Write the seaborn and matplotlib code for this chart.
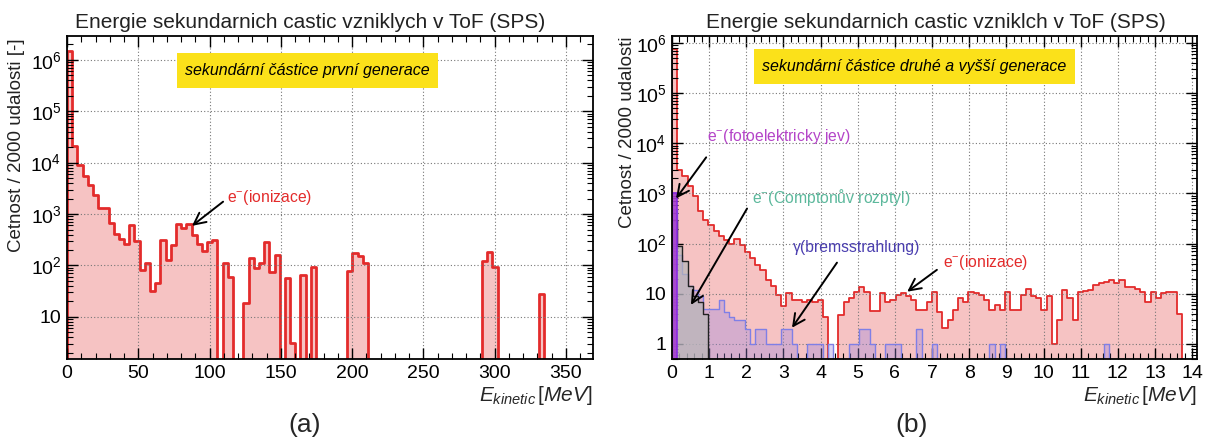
import numpy as np
import pandas as pd
import matplotlib
matplotlib.use("Agg")
import matplotlib.pyplot as plt
import seaborn as sns
from matplotlib.colors import to_rgba
from matplotlib.patches import Rectangle
from matplotlib.ticker import FixedLocator, MultipleLocator, LogLocator, NullFormatter, FuncFormatter

sns.set_theme(style="ticks")
plt.rcParams['font.family'] = ['Liberation Sans', 'DejaVu Sans']
plt.rcParams['mathtext.fontset'] = 'custom'
plt.rcParams['mathtext.rm'] = 'Liberation Sans'
plt.rcParams['mathtext.it'] = 'Liberation Sans:italic'
plt.rcParams['mathtext.bf'] = 'Liberation Sans:bold'

# ---------------- data ----------------
titles = ["Energie sekundarnich castic vzniklych v ToF (SPS)",
          "Energie sekundarnich castic vzniklch v ToF (SPS)"]
ylabels = ["Cetnost / 2000 udalosti [-]", "Cetnost / 2000 udalosti"]
box_texts = ["sekundární částice první generace",
             "sekundární částice druhé a vyšší generace"]
panel_tags = ["(a)", "(b)"]

bin_width_a = 3.64   # MeV
counts_a = [1.5e6, 2.1e4, 8.9e3, 5.6e3, 3.6e3, 2.4e3, 1.3e3, 1.3e3, 680, 410,
            330, 260, 610, 300, 82, 112, 32, 45, 310, 127,
            250, 630, 540, 630, 390, 260, 190, 280, 310, 0,
            112, 59, 0, 0, 19, 138, 90, 110, 290, 76,
            160, 0, 58, 3.1, 0, 65, 0, 93, 0, 0,
            0, 0, 0, 0, 77, 172, 152, 112, 0, 0,
            0, 0, 0, 0, 0, 0, 0, 0, 0, 0,
            0, 0, 0, 0, 0, 0, 0, 0, 0, 0,
            121, 185, 92, 0, 0, 0, 0, 0, 0, 0,
            0, 28, 0, 0, 0, 0, 0, 0, 0, 0]

bin_width_b = 0.14   # MeV
counts_ion_b = [7.6e5, 2900, 2200, 1400, 890, 450, 300, 240, 175, 140,
                120, 100, 125, 94, 69, 51, 38, 30, 19, 14,
                9.4, 5.6, 10.5, 7.5, 7.5, 7, 7.5, 7, 7.5, 3.5,
                0, 0, 3.8, 7, 8.2, 11, 13.6, 11, 4.5, 4.5,
                10.3, 7, 7.6, 9.5, 10.3, 8.9, 7.6, 4.8, 4.8, 7,
                11, 4.4, 2.1, 3.0, 4.8, 8.2, 7, 11, 10.3, 9.5,
                7.6, 4.8, 6, 4.8, 11, 4.8, 4.8, 9.5, 12.4, 8.9,
                8.2, 4.8, 8.9, 1, 3.0, 12, 8.2, 3.0, 11, 11.5,
                12, 15, 16.3, 16.8, 18.5, 16.3, 18.5, 13.9, 13.5, 12.4,
                11, 7, 11, 8.2, 10.5, 11, 11, 4, 0, 0]
counts_brems_b = [500, 60, 25, 14, 12, 9, 5, 5, 5, 7.5,
                  4.3, 3.4, 3, 3, 2, 1, 2, 2, 1, 1,
                  1, 2, 2, 1, 0, 0, 1, 1, 1, 0,
                  1, 0, 0, 0, 1, 1, 2, 2, 1, 0,
                  0, 1, 1, 1, 0, 0, 0, 2, 0, 0,
                  1, 0, 0, 0, 0, 0, 0, 0, 0, 0,
                  0, 1, 0, 1, 0, 0, 0, 0, 0, 0,
                  0, 0, 0, 0, 0, 0, 0, 0, 0, 0,
                  0, 0, 0, 1, 0, 0, 0, 0, 0, 0,
                  0, 0, 0, 0, 0, 0, 0, 0, 0, 0]
counts_compton_b = [300, 90, 45, 14, 9, 7, 4] + [0] * 93
counts_photo_b = [1000] + [0] * 99

# ---------------- style ----------------
RED = "#e32b2b"
PINK = "#f6c3c3"
PHOTO = "#a63fd0"
COMPTON = "#5cb89c"
BREMS = "#4b3fb0"
YELLOW = "#fbe11a"


def draw_hist(ax, counts, width, face, edge, lw, alpha=1.0, z=2):
    n = len(counts)
    centers = (np.arange(n) + 0.5) * width
    df = pd.DataFrame({"E": centers, "n": np.asarray(counts, dtype=float)})
    sns.histplot(data=df, x="E", weights="n", bins=n, binrange=(0, n * width),
                 element="step", fill=True, color=face, ax=ax)
    coll = ax.collections[-1]
    coll.set_facecolor(to_rgba(face, alpha))
    coll.set_edgecolor(edge)
    coll.set_linewidth(lw)
    coll.set_zorder(z)
    return coll


def ylog_fmt(v, pos):
    if v <= 0:
        return ""
    k = int(round(np.log10(v)))
    if k == 0:
        return "1"
    if k == 1:
        return "10"
    return r"$10^{%d}$" % k


W, H = 1212, 443
fig = plt.figure(figsize=(W / 100, H / 100), dpi=100)
axA = fig.add_axes([67 / W, 1 - 359 / H, 526 / W, 323 / H])
axB = fig.add_axes([672 / W, 1 - 359 / H, 525 / W, 323 / H])

draw_hist(axA, counts_a, bin_width_a, PINK, RED, 2.0)
draw_hist(axB, counts_ion_b, bin_width_b, PINK, RED, 1.3)
draw_hist(axB, counts_brems_b, bin_width_b, "#9a86e0", "#7f7fe6", 1.0, alpha=0.35, z=3)
draw_hist(axB, counts_compton_b, bin_width_b, "#b8b8b8", "#222222", 1.0, alpha=0.7, z=4)
draw_hist(axB, counts_photo_b, bin_width_b, PHOTO, "#8a2be2", 1.2, alpha=0.9, z=5)

for ax, yt, xmaj, xmin in [(axA, [10, 1e2, 1e3, 1e4, 1e5, 1e6], 50, 10),
                           (axB, [1, 10, 1e2, 1e3, 1e4, 1e5, 1e6], 1, 0.2)]:
    ax.set_yscale('log')
    ax.yaxis.set_major_locator(FixedLocator(yt))
    ax.yaxis.set_major_formatter(FuncFormatter(ylog_fmt))
    ax.yaxis.set_minor_locator(LogLocator(base=10, subs=np.arange(2, 10), numticks=30))
    ax.yaxis.set_minor_formatter(NullFormatter())
    ax.xaxis.set_major_locator(MultipleLocator(xmaj))
    ax.xaxis.set_minor_locator(MultipleLocator(xmin))
    ax.tick_params(which='both', direction='in', top=True, right=True,
                   bottom=True, left=True, colors='black')
    ax.tick_params(which='major', length=8, width=1.0, labelsize=14, pad=4)
    ax.tick_params(which='minor', length=4, width=0.8)
    ax.grid(True, which='major', linestyle=(0, (1, 2)), color='#777777', linewidth=0.8)
    ax.set_axisbelow(False)
    for s in ax.spines.values():
        s.set_color('black')
        s.set_linewidth(1.3)
        s.set_zorder(10)
    ax.set_ylabel("")
    ax.set_xlabel(r"$E_{kinetic}\,[MeV]$", fontsize=15, loc='right', labelpad=2)

axA.set_xlim(0, 369)
axA.set_ylim(1.52, 2.9e6)
axB.set_xlim(0, 14.13)
axB.set_ylim(0.5, 1.38e6)

# titles, y labels, panel tags
fig.text(75 / W, 1 - 22 / H, titles[0], fontsize=15, ha='left', va='center', color='#222222')
fig.text(706 / W, 1 - 22 / H, titles[1], fontsize=15, ha='left', va='center', color='#222222')
fig.text(17 / W, 1 - 252 / H, ylabels[0], fontsize=13.5, rotation=90, ha='center', va='bottom', color='#222222')
fig.text(627 / W, 1 - 228 / H, ylabels[1], fontsize=13.5, rotation=90, ha='center', va='bottom', color='#222222')
fig.text(305 / W, 1 - 425 / H, panel_tags[0], fontsize=19, ha='center', va='center')
fig.text(912 / W, 1 - 425 / H, panel_tags[1], fontsize=19, ha='center', va='center')

# yellow boxes
for ax, (x0, x1, y0, y1), txt in [(axA, (0.209, 0.705, 0.839, 0.947), box_texts[0]),
                                  (axB, (0.156, 0.768, 0.851, 0.960), box_texts[1])]:
    ax.add_patch(Rectangle((x0, y0), x1 - x0, y1 - y0, transform=ax.transAxes,
                           facecolor=YELLOW, edgecolor='none', zorder=11))
    ax.text((x0 + x1) / 2, (y0 + y1) / 2, txt, transform=ax.transAxes, fontsize=11.5,
            style='italic', ha='center', va='center', zorder=12, color='black')

arrow = dict(arrowstyle='->,head_length=0.7,head_width=0.35', color='black', lw=1.4,
             shrinkA=0, shrinkB=0)

# panel a annotation
axA.text(112, 2100, r"e$^{-}$(ionizace)", color=RED, fontsize=11.3, ha='left', va='center', zorder=12)
axA.annotate("", xy=(87.7, 590), xytext=(109.5, 1740), arrowprops=arrow, zorder=12)

# panel b annotations
axB.text(0.94, 1.38e4, r"e$^{-}$(fotoelektricky jev)", color="#b444c8", fontsize=11.3, ha='left', va='center', zorder=12)
axB.annotate("", xy=(0.11, 794), xytext=(0.92, 5250), arrowprops=arrow, zorder=12)
axB.text(2.15, 832, r"e$^{-}$(Comptonův rozptyl)", color=COMPTON, fontsize=11.3, ha='left', va='center', zorder=12)
axB.annotate("", xy=(0.51, 6.0), xytext=(2.02, 500), arrowprops=arrow, zorder=12)
axB.text(3.26, 83, "γ(bremsstrahlung)", color=BREMS, fontsize=11.3, ha='left', va='center', zorder=12)
axB.annotate("", xy=(3.23, 2.1), xytext=(4.44, 41.7), arrowprops=arrow, zorder=12)
axB.text(7.29, 41.7, r"e$^{-}$(ionizace)", color=RED, fontsize=11.3, ha='left', va='center', zorder=12)
axB.annotate("", xy=(6.33, 11), xytext=(7.13, 30), arrowprops=arrow, zorder=12)

fig.savefig("out.png", dpi=100)
